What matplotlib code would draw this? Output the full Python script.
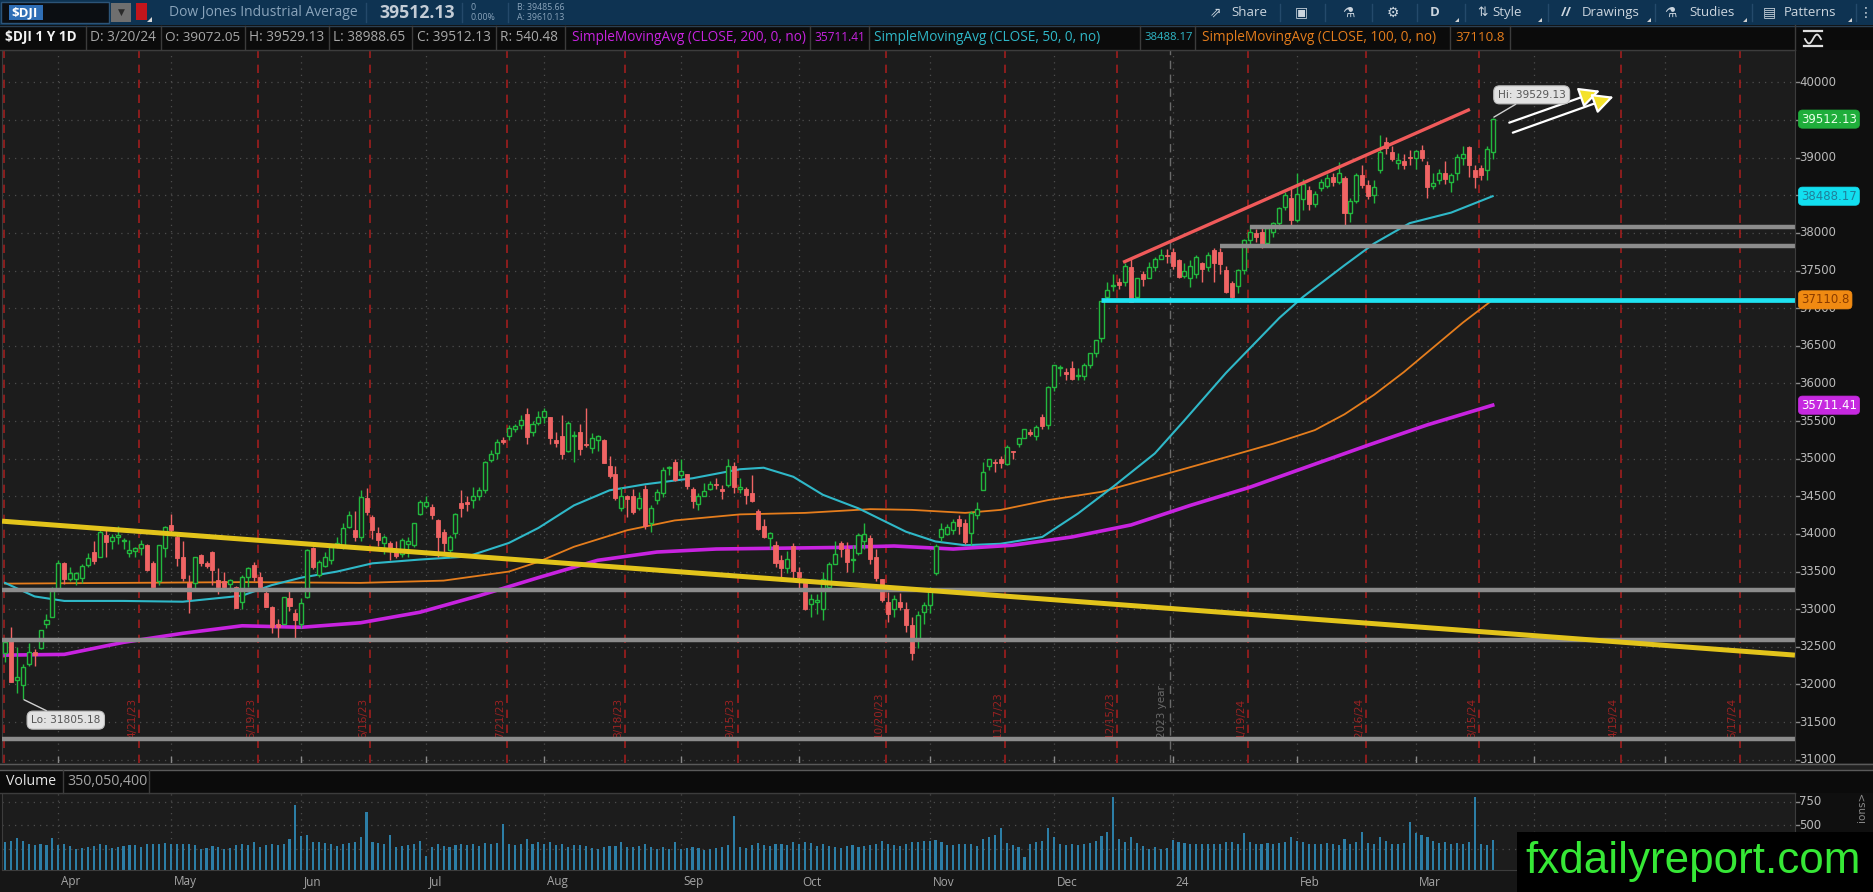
import numpy as np
import pandas as pd
import matplotlib
matplotlib.use("Agg")
import matplotlib.pyplot as plt
from matplotlib.patches import Rectangle, Polygon
from matplotlib.lines import Line2D

# ------------------------------------------------------------------ data
symbol_title = "Dow Jones Industrial Average"
holidays = ["2023-04-07", "2023-05-29", "2023-06-19", "2023-07-04", "2023-09-04",
            "2023-11-23", "2023-12-25", "2024-01-01", "2024-01-15", "2024-02-19",
            "2024-03-29", "2024-05-27"]

# daily OHLC, 2023-03-21 .. 2024-03-20 (one row of values per month)
opens = [
    32415, 32590, 32060, 31990, 32270, 32430, 32480, 32800, 32900,
    33250, 33610, 33400, 33400, 33420, 33590, 33760, 33700, 33990, 33910, 33960, 33900, 33750, 33780, 33820, 33850, 33620, 33380, 33820,
    34120, 33960, 33700, 33350, 33350, 33720, 33620, 33760, 33390, 33380, 33330, 33300, 33100, 33430, 33590, 33430, 33210, 33030, 32800, 32810, 33150, 32950,
    32800, 33160, 33810, 33450, 33580, 33650, 33850, 33830, 34090, 34050, 33960, 34480, 34220, 34010, 33880, 33880, 33800, 33730, 33860, 33850, 34270,
    34370, 34360, 34180, 34030, 33790, 34010, 34410, 34420, 34450, 34500, 34590, 34980, 35080, 35250, 35300, 35400, 35450, 35600, 35350, 35470,
    35550, 35550, 35250, 35300, 35100, 35300, 35350, 35200, 35140, 35250, 35250, 34900, 34800, 34350, 34500, 34500, 34340, 34600, 34150, 34450, 34540, 34870, 34950,
    34780, 34800, 34600, 34400, 34500, 34600, 34650, 34600, 34650, 34900, 34600, 34600, 34550, 34300, 34110, 33950, 33850, 33650, 33550, 33840,
    33500, 33350, 33070, 33100, 33000, 33300, 33600, 33880, 33800, 33650, 33750, 33900, 33950, 33700, 33400, 33100, 33000, 33100, 33000, 32790, 32590, 32960,
    33050, 33480, 33960, 34000, 34050, 34200, 34150, 34010, 34250, 34580, 34900, 34950, 35000, 34930, 35100, 35200, 35270, 35350, 35300, 35550, 35450,
    35950, 36200, 36150, 36200, 36100, 36100, 36250, 36400, 36600, 37150, 37300, 37350, 37350, 37550, 37150, 37450, 37400, 37550, 37650, 37700,
    37750, 37640, 37430, 37400, 37450, 37600, 37550, 37770, 37750, 37510, 37330, 37290, 37510, 37900, 38000, 38010, 37860, 38010, 38130, 38340, 38460,
    38170, 38450, 38570, 38380, 38600, 38620, 38740, 38680, 38730, 38260, 38420, 38770, 38640, 38500, 38840, 39210, 39080, 38930, 38950, 39000,
    39000, 39100, 38900, 38620, 38700, 38800, 38680, 38800, 39000, 39140, 38830, 38860, 38840, 39072.05,
]
highs = [
    32600, 32760, 32500, 32270, 32550, 32470, 32730, 32930, 33300,
    33650, 33630, 33560, 33500, 33600, 33750, 33900, 34060, 34050, 34000, 34100, 33950, 33920, 33830, 33920, 33870, 33640, 33850, 34100,
    34270, 34000, 33900, 33450, 33700, 33730, 33640, 33780, 33550, 33500, 33400, 33310, 33450, 33560, 33630, 33490, 33300, 33040, 32870, 33160, 33260, 33000,
    33150, 33800, 33830, 33650, 33760, 33860, 33960, 34140, 34300, 34300, 34590, 34610, 34250, 34090, 33990, 33900, 33900, 33940, 33960, 34150, 34450,
    34500, 34400, 34200, 34060, 33980, 34280, 34580, 34500, 34630, 34620, 34970, 35120, 35260, 35290, 35450, 35460, 35580, 35680, 35500, 35630,
    35680, 35560, 35350, 35580, 35500, 35370, 35460, 35680, 35340, 35320, 35260, 35030, 34900, 34630, 34520, 34600, 34560, 34650, 34380, 34600, 34890, 34900, 34990,
    34990, 34800, 34620, 34550, 34680, 34700, 34740, 34650, 34990, 34950, 34750, 34620, 34780, 34330, 34200, 34020, 33900, 33720, 33780, 33880,
    33560, 33350, 33200, 33200, 33500, 33630, 33900, 33900, 33890, 33850, 34010, 34140, 33980, 33800, 33400, 33230, 33190, 33220, 33100, 32900, 32980, 33090,
    33300, 33860, 34150, 34130, 34200, 34250, 34200, 34300, 34420, 34950, 35000, 35000, 35030, 35180, 35100, 35280, 35400, 35400, 35450, 35600, 35960,
    36250, 36250, 36200, 36300, 36200, 36270, 36410, 36580, 37100, 37350, 37450, 37400, 37600, 37650, 37400, 37500, 37620, 37680, 37780, 37780,
    37800, 37660, 37600, 37640, 37700, 37620, 37740, 37800, 37800, 37560, 37360, 37520, 37920, 38100, 38050, 38080, 38080, 38150, 38340, 38550, 38600,
    38790, 38720, 38630, 38560, 38720, 38780, 38800, 38940, 38750, 38460, 38800, 38900, 38700, 38700, 39300, 39280, 39150, 39060, 39050, 39100,
    39100, 39170, 38950, 38800, 38850, 38950, 38800, 39050, 39150, 39150, 38900, 38900, 39150, 39529.13,
]
lows = [
    32300, 32030, 31890, 31805.18, 32240, 32250, 32470, 32750, 32890,
    33250, 33330, 33370, 33320, 33350, 33560, 33600, 33690, 33700, 33800, 33870, 33800, 33700, 33700, 33720, 33510, 33290, 33320, 33700,
    34000, 33570, 33380, 32950, 33280, 33570, 33550, 33320, 33200, 33250, 33230, 33010, 33000, 33300, 33370, 33240, 33030, 32690, 32620, 32800, 32970, 32590,
    32750, 33150, 33530, 33430, 33560, 33600, 33820, 33800, 34080, 33910, 33900, 34250, 33930, 33840, 33740, 33650, 33680, 33690, 33700, 33830, 34250,
    34350, 34200, 33700, 33730, 33700, 33950, 34220, 34310, 34350, 34450, 34550, 34950, 35000, 35190, 35250, 35350, 35400, 35200, 35300, 35450,
    35480, 35200, 35150, 35000, 35090, 34950, 35050, 35150, 35070, 35100, 34940, 34750, 34450, 34300, 34230, 34270, 34320, 34070, 34030, 34400, 34490, 34780, 34700,
    34750, 34600, 34350, 34320, 34500, 34580, 34600, 34460, 34620, 34550, 34550, 34400, 34430, 34050, 33950, 33800, 33560, 33370, 33480, 33400,
    33250, 32990, 32900, 32930, 32860, 33250, 33600, 33700, 33500, 33500, 33720, 33800, 33600, 33380, 33100, 32830, 32900, 32990, 32700, 32330, 32480, 32800,
    32950, 33450, 33900, 33990, 34000, 34000, 33860, 33850, 34200, 34580, 34850, 34820, 34880, 34920, 35000, 35150, 35270, 35300, 35250, 35400, 35400,
    35900, 36100, 36050, 36050, 36050, 36050, 36200, 36350, 36550, 37100, 37230, 37250, 37300, 37080, 37100, 37300, 37400, 37500, 37650, 37600,
    37520, 37400, 37400, 37280, 37400, 37350, 37500, 37350, 37450, 37200, 37120, 37200, 37450, 37850, 37880, 37800, 37840, 37950, 38050, 38300, 38100,
    38150, 38300, 38300, 38350, 38560, 38600, 38620, 38650, 38100, 38150, 38400, 38600, 38450, 38400, 38800, 39050, 38950, 38850, 38850, 38900,
    38850, 38950, 38460, 38580, 38650, 38650, 38550, 38700, 38900, 38740, 38600, 38700, 38700, 38988.65,
]
closes = [
    32560, 32030, 32105, 32237, 32432, 32394, 32718, 32859, 33274,
    33610, 33400, 33480, 33485, 33570, 33680, 33640, 34030, 33890, 33960, 33980, 33900, 33790, 33810, 33870, 33520, 33300, 33850, 34090,
    34050, 33680, 33410, 33130, 33690, 33610, 33580, 33520, 33300, 33300, 33390, 33010, 33430, 33550, 33430, 33300, 33030, 32760, 32770, 33160, 33040, 32860,
    33080, 33790, 33560, 33630, 33700, 33830, 33880, 34080, 34250, 33960, 34490, 34290, 34050, 33920, 33960, 33790, 33710, 33920, 33900, 34140, 34430,
    34430, 34250, 33960, 33880, 33960, 34270, 34340, 34395, 34510, 34585, 34950, 35060, 35225, 35228, 35411, 35438, 35520, 35283, 35459, 35560,
    35630, 35280, 35215, 35066, 35474, 35314, 35123, 35176, 35281, 35308, 34946, 34766, 34475, 34500, 34464, 34289, 34473, 34100, 34347, 34560, 34853, 34891, 34722,
    34838, 34642, 34443, 34501, 34577, 34664, 34646, 34576, 34907, 34618, 34624, 34518, 34441, 34070, 33964, 34007, 33619, 33551, 33667, 33510,
    33433, 33002, 33130, 33120, 33407, 33605, 33740, 33804, 33632, 33671, 33985, 33998, 33665, 33415, 33127, 32937, 33141, 33036, 32784, 32418, 32929, 33053,
    33275, 33839, 34061, 34096, 34153, 34112, 33892, 34283, 34337, 34828, 34991, 34946, 34947, 35151, 35088, 35273, 35390, 35333, 35417, 35430, 35951,
    36245, 36204, 36125, 36055, 36117, 36248, 36405, 36577, 37090, 37248, 37306, 37306, 37558, 37083, 37405, 37386, 37545, 37657, 37711, 37690,
    37560, 37420, 37500, 37560, 37683, 37525, 37700, 37600, 37593, 37210, 37150, 37510, 37900, 38010, 37950, 37840, 38060, 38130, 38333, 38500, 38170,
    38520, 38654, 38380, 38520, 38677, 38726, 38680, 38800, 38260, 38424, 38773, 38640, 38490, 38612, 39069, 39131, 38980, 38972, 38900, 38996,
    39087, 38990, 38610, 38661, 38791, 38723, 38770, 39005, 39043, 38906, 38740, 38770, 39110, 39512.13,
]
# daily volume, millions of shares
volume_m = [
    330, 340, 370, 340, 300, 290, 300, 290, 370,
    290, 300, 280, 250, 260, 270, 280, 300, 290, 260, 270, 280, 290, 290, 270, 300, 300, 310, 320,
    300, 300, 310, 300, 290, 250, 260, 280, 270, 250, 260, 290, 300, 290, 330, 270, 290, 310, 290, 300, 360, 710,
    390, 400, 330, 330, 320, 300, 280, 300, 320, 330, 380, 640, 330, 320, 310, 400, 270, 280, 290, 300, 340,
    180, 270, 300, 280, 270, 290, 300, 290, 300, 280, 320, 310, 320, 510, 310, 290, 310, 360, 310, 330,
    310, 330, 290, 300, 270, 290, 290, 280, 260, 250, 270, 280, 280, 330, 270, 270, 280, 300, 270, 250, 270, 250, 330,
    250, 260, 270, 260, 240, 250, 260, 270, 290, 600, 270, 260, 290, 320, 290, 280, 310, 300, 290, 330,
    300, 330, 320, 280, 310, 280, 270, 260, 280, 290, 270, 280, 290, 310, 340, 300, 290, 280, 310, 330, 330, 340,
    340, 350, 330, 290, 290, 300, 300, 310, 280, 360, 380, 400, 470, 320, 290, 270, 170, 310, 330, 340, 470,
    380, 300, 290, 300, 290, 300, 320, 340, 390, 430, 800, 360, 330, 380, 320, 280, 250, 270, 250, 260,
    350, 330, 320, 310, 300, 310, 300, 310, 300, 330, 330, 310, 420, 330, 300, 310, 320, 300, 320, 330, 380,
    340, 330, 310, 300, 300, 320, 300, 290, 360, 300, 330, 430, 320, 300, 380, 340, 300, 310, 320, 540,
    420, 400, 380, 340, 320, 330, 310, 320, 300, 330, 800, 300, 290, 350,
]

# moving averages (trading-day number, value)
sma200_day = [0, 10, 20, 30, 40, 50, 60, 70, 80, 90, 100, 110, 120, 130, 140, 150, 160, 170, 180, 190, 200, 210, 220, 230, 240, 251]
sma200_val = [32390, 32400, 32560, 32680, 32780, 32760, 32820, 32960, 33180, 33420, 33650, 33760, 33800, 33810, 33820, 33840,
              33800, 33850, 33960, 34120, 34380, 34620, 34900, 35180, 35450, 35711.41]
sma50_day = [0, 5, 10, 20, 30, 40, 45, 50, 56, 62, 70, 78, 85, 90, 96, 102, 108, 116, 124, 128, 133, 138, 144, 152,
             157, 162, 168, 175, 181, 187, 194, 199, 206, 215, 219, 226, 231, 237, 244, 251]
sma50_val = [33350, 33170, 33110, 33110, 33100, 33180, 33320, 33420, 33500, 33610, 33660, 33700, 33880, 34080, 34380,
             34580, 34660, 34740, 34860, 34880, 34760, 34520, 34340, 34030, 33900, 33850, 33870, 33960, 34270, 34630,
             35070, 35510, 36140, 36870, 37150, 37570, 37860, 38130, 38270, 38488.17]
sma100_day = [0, 20, 40, 60, 74, 85, 90, 96, 105, 113, 124, 135, 146, 153, 162, 168, 176, 185, 196, 206, 214, 221,
              226, 231, 236, 241, 246, 251]
sma100_val = [33340, 33350, 33360, 33350, 33380, 33500, 33630, 33830, 34050, 34180, 34260, 34280, 34330, 34320, 34280,
              34320, 34450, 34560, 34800, 35020, 35200, 35380, 35590, 35850, 36150, 36480, 36810, 37110.8]

# header / legend values
last_price = 39512.13
bid_price, ask_price = 39485.66, 39610.13
ohlc_header = ["D: 3/20/24", "O: 39072.05", "H: 39529.13", "L: 38988.65", "C: 39512.13", "R: 540.48"]
sma200_last, sma50_last, sma100_last = 35711.41, 38488.17, 37110.8
last_volume = "350,050,400"
hi_value, lo_value = 39529.13, 31805.18

# option-expiration markers
opex_dates = ["2023-03-17", "2023-04-21", "2023-05-19", "2023-06-16", "2023-07-21", "2023-08-18", "2023-09-15",
              "2023-10-20", "2023-11-17", "2023-12-15", "2024-01-19", "2024-02-16", "2024-03-15", "2024-04-19",
              "2024-05-17"]
opex_labels = ["", "4/21/23", "5/19/23", "6/16/23", "7/21/23", "8/18/23", "9/15/23", "10/20/23", "11/17/23",
               "12/15/23", "1/19/24", "2/16/24", "3/15/24", "4/19/24", "5/17/24"]
month_labels = ["Apr", "May", "Jun", "Jul", "Aug", "Sep", "Oct", "Nov", "Dec", "24", "Feb", "Mar"]
price_levels = list(range(31000, 40001, 500))
volume_levels = [250, 500, 750]
volume_labels = [750, 500]

# user drawings (trading-day number, price)
yellow_trend = ([-0.5, 302.0], [34170, 32390])
red_trend = ([188.9, 246.9], [37618, 39633])
gray_full = [33255, 32590, 31270]
gray_partial = [(38085, 210), (37820, 205)]
cyan_level = (37110, 185)
arrows = [((253.8, 39465), (269.1, 39890)), ((254.4, 39332), (271.4, 39810))]

# ------------------------------------------------------------------ layout
W, H = 1873, 892
fig = plt.figure(figsize=(W / 100, H / 100), dpi=100)
fig.patch.set_facecolor("#161616")
renderer = fig.canvas.get_renderer()

HF = ["Open Sans", "DejaVu Sans"]
NF = ["DejaVu Sans"]
BG = "#1c1c1c"
GREEN = "#22b83e"
RED = "#f06464"
MAG = "#c823e0"
CYAN = "#2fb8c8"
ORANGE = "#e57d1c"

X0, PXD = 5.0, 5.927          # pixel of first candle, pixels per trading day
Y40, PPK = 82.4, 75.26        # pixel row of 40000, pixels per 1000 points


def fx(x):
    return x / W


def fy(y):
    return 1 - y / H


def price_at(y):
    return 40000 - (y - Y40) / PPK * 1000


def frect(x0, y0, x1, y1, fc, ec="none", lw=0, z=2):
    r = Rectangle((fx(x0), fy(y1)), (x1 - x0) / W, (y1 - y0) / H, transform=fig.transFigure,
                  facecolor=fc, edgecolor=ec, linewidth=lw, zorder=z)
    fig.add_artist(r)
    return r


def fline(xs_, ys_, color, lw=1.0, z=3):
    l = Line2D([fx(v) for v in xs_], [fy(v) for v in ys_], transform=fig.transFigure, color=color, lw=lw, zorder=z)
    fig.add_artist(l)


def ftext(x, y, s, color, size, family=HF, weight="normal", ha="left", va="center", z=4, **kw):
    return fig.text(fx(x), fy(y), s, color=color, fontsize=size, family=family, fontweight=weight,
                    ha=ha, va=va, zorder=z, **kw)


def size_for(s, width, family=HF, weight="normal"):
    t = fig.text(0, 0, s, fontsize=10, family=family, fontweight=weight)
    w = t.get_window_extent(renderer).width
    t.remove()
    return 10 * width / w


# trading calendar
all_days = pd.bdate_range("2023-03-21", "2024-05-31")
all_days = all_days[~all_days.isin(pd.to_datetime(holidays))]
day_pos = {d.strftime("%Y-%m-%d"): i for i, d in enumerate(all_days)}
month_start = [i for i in range(1, len(all_days)) if all_days[i].month != all_days[i - 1].month]
year_break = day_pos["2024-01-02"] - 0.5

n = len(closes)
xi = np.arange(n)
o = np.array(opens, float)
hh = np.array(highs, float)
ll = np.array(lows, float)
c = np.array(closes, float)

PL, PR, MT, MB = 2, 1795, 50, 763
XL = ((PL - X0) / PXD, (PR - X0) / PXD)
YL = (price_at(MB), price_at(MT))

# ---------------- main price panel
ax = fig.add_axes([fx(PL), fy(MB), (PR - PL) / W, (MB - MT) / H])
ax.set_xlim(*XL)
ax.set_ylim(*YL)
ax.set_facecolor(BG)
ax.set_xticks([])
ax.set_yticks([])
for s in ax.spines.values():
    s.set_color("#3c3c3c")

for lv in price_levels + [40500]:
    ax.axhline(lv, color="#4c4c4c", ls=(0, (1, 4)), lw=0.9, zorder=0.5)
for m in month_start:
    ax.axvline(m, color="#4c4c4c", ls=(0, (1, 4)), lw=0.9, zorder=0.5)
    ax.axvline(m, ymin=0, ymax=6 / (MB - MT), color="#8a8a8a", lw=1, zorder=0.6)

ax.axvline(year_break, color="#6a6a6a", ls=(0, (6, 4)), lw=1, zorder=0.8)
ax.text(year_break - 0.4, price_at(738), "2023 year", rotation=90, ha="right", va="bottom",
        color="#6a6a6a", fontsize=7.5, family=NF, zorder=0.8, clip_on=True)

for d, lab in zip(opex_dates, opex_labels):
    xpos = day_pos.get(d, -0.85) + 0.65
    ax.axvline(xpos, color="#a01e1e", ls=(0, (5, 4)), lw=1.2, zorder=1)
    if lab:
        ax.text(xpos - 0.35, price_at(738), lab, rotation=90, ha="right", va="bottom",
                color="#9a2222", fontsize=7.5, family=NF, zorder=1, clip_on=True)

# moving averages
ax.plot(sma100_day, sma100_val, color=ORANGE, lw=1.3, zorder=2)
ax.plot(sma50_day, sma50_val, color=CYAN, lw=1.5, zorder=2)
ax.plot(sma200_day, sma200_val, color=MAG, lw=2.6, zorder=2)

# candles
up = c >= o
ax.vlines(xi, ll, hh, colors=[GREEN if u else RED for u in up], lw=1, zorder=3)
body_lo = np.minimum(o, c)
body_h = np.maximum(np.abs(c - o), 14)
ax.bar(xi[up], body_h[up], bottom=body_lo[up], width=0.68, facecolor=BG, edgecolor=GREEN, lw=1, zorder=4)
ax.bar(xi[~up], body_h[~up], bottom=body_lo[~up], width=0.68, facecolor=RED, edgecolor=RED, lw=0.6, zorder=4)

# drawings
for v in gray_full:
    ax.axhline(v, color="#8c8c8c", lw=3.2, zorder=5)
for v, start in gray_partial:
    ax.hlines(v, start, XL[1], color="#8c8c8c", lw=3.2, zorder=5)
ax.hlines(cyan_level[0], cyan_level[1], XL[1], color="#1fe3f2", lw=3.4, zorder=5)
ax.plot(*yellow_trend, color="#e3c41b", lw=3.6, zorder=5, solid_capstyle="butt")
ax.plot(*red_trend, color="#f05a5a", lw=2.4, zorder=5)
for (tail, tip) in arrows:
    ax.annotate("", xy=tip, xytext=tail,
                arrowprops=dict(arrowstyle="-|>,head_length=0.9,head_width=0.45", fc="#f4e22a", ec="white",
                                lw=1.6, shrinkA=0, shrinkB=0, mutation_scale=14), zorder=6)

hi_i = int(np.argmax(hh))
lo_i = int(np.argmin(ll))
bub = dict(boxstyle="round,pad=0.38,rounding_size=0.55", fc="#e2e2e2", ec="#bdbdbd", lw=0.8)
ax.annotate(f"Hi: {hi_value:.2f}", xy=(hi_i, hi_value), xytext=(39, 23), textcoords="offset pixels",
            ha="center", va="center", fontsize=7.6, color="#555555", family=NF, bbox=bub,
            arrowprops=dict(arrowstyle="-", color="#d0d0d0", lw=1, shrinkA=0, shrinkB=1), zorder=9)
ax.annotate(f"Lo: {lo_value:.2f}", xy=(lo_i, lo_value), xytext=(43, -21), textcoords="offset pixels",
            ha="center", va="center", fontsize=7.6, color="#555555", family=NF, bbox=bub,
            arrowprops=dict(arrowstyle="-", color="#d0d0d0", lw=1, shrinkA=0, shrinkB=1), zorder=9)

# ---------------- right price scale
axR = fig.add_axes([fx(PR), fy(MB), (W - PR) / W, (MB - MT) / H])
axR.set_xlim(0, W - PR)
axR.set_ylim(*YL)
axR.set_facecolor("#0f0f0f")
axR.set_xticks([])
axR.set_yticks([])
for k, s in axR.spines.items():
    s.set_visible(k == "left")
    s.set_color("#3c3c3c")
badges = [(last_price, f"{last_price:.2f}", "#1fae3b", "#e8ffe8"),
          (sma50_last, f"{sma50_last:.2f}", "#12dff0", "#1f7f9a"),
          (sma100_last, f"{sma100_last}", "#f08a12", "#8a3c00"),
          (sma200_last, f"{sma200_last:.2f}", "#c629e0", "#ffffff")]
badge_half = 9.5 / PPK * 1000      # half badge height in points
for lv in price_levels:
    axR.plot([0, 3.5], [lv, lv], color="#8a8a8a", lw=1)
    covered = any(abs(lv - b[0]) < badge_half * 0.75 for b in badges)
    if not covered:
        axR.text(4.5, lv, f"{lv}", color="#b9b9b9", fontsize=8.5, family=NF, va="center", ha="left", clip_on=True)
for val, s, bg, tc in badges:
    axR.text(6.0, val, s, color=tc, fontsize=8.5, family=NF, va="center", ha="left", zorder=5,
             bbox=dict(boxstyle="round,pad=0.22,rounding_size=0.35", fc=bg, ec=bg, lw=0.5))

# ---------------- volume panel
VT, VB = 793, 870
VYL = (33, 839)
axV = fig.add_axes([fx(PL), fy(VB), (PR - PL) / W, (VB - VT) / H])
axV.set_xlim(*XL)
axV.set_ylim(*VYL)
axV.set_facecolor(BG)
axV.set_xticks([])
axV.set_yticks([])
for s in axV.spines.values():
    s.set_color("#3c3c3c")
for lv in volume_levels:
    axV.axhline(lv, color="#4c4c4c", ls=(0, (1, 4)), lw=0.9, zorder=0.5)
for m in month_start:
    axV.axvline(m, color="#4c4c4c", ls=(0, (1, 4)), lw=0.9, zorder=0.5)
axV.bar(xi, volume_m, width=0.36, color="#2c7ea6", zorder=2)

axVR = fig.add_axes([fx(PR), fy(VB), (W - PR) / W, (VB - VT) / H])
axVR.set_xlim(0, W - PR)
axVR.set_ylim(*VYL)
axVR.set_facecolor("#0f0f0f")
axVR.set_xticks([])
axVR.set_yticks([])
for k, s in axVR.spines.items():
    s.set_visible(k == "left")
    s.set_color("#3c3c3c")
for lv in volume_levels:
    axVR.plot([0, 3.5], [lv, lv], color="#8a8a8a", lw=1)
for lv in volume_labels:
    axVR.text(4.5, lv, f"{lv}", color="#b9b9b9", fontsize=8.5, family=NF, va="center", ha="left", clip_on=True)
axVR.text(67, 690, "ions>", rotation=90, color="#8a8a8a", fontsize=7.5, family=NF, ha="center", va="center",
          clip_on=True)

# splitter + volume header
frect(0, 763, W, 770, "#202020", z=1)
fline([0, W], [763.5, 763.5], "#5a5a5a", 1, 1.5)
fline([0, W], [769.5, 769.5], "#5a5a5a", 1, 1.5)
frect(0, 770, W, 793, "#0b0b0b", z=1)
fline([63, 63], [770, 793], "#3c3c3c", 1, 3)
fline([149, 149], [770, 793], "#3c3c3c", 1, 3)
fline([0, PR], [792.5, 792.5], "#3c3c3c", 1, 3)
vs = size_for("Volume", 50)
ftext(6, 781.5, "Volume", "#e6e6e6", vs)
ftext(67, 781.5, last_volume, "#a6a6a6", vs)

# month labels
for m, lab in zip(month_start, month_labels):
    ftext(X0 + m * PXD + 3, 882, lab, "#a6a6a6", 8.5)

# ---------------- header bar
frect(0, 0, W, 25, "#0e3352", z=2)
frect(1, 2, 109, 23, "#0b0e12", ec="#2c5478", lw=1, z=3)
frect(9, 5, 43, 20, "#2f6fb6", z=3)
ftext(11, 12.5, "$DJI", "white", 9.5, weight="bold")
frect(111, 3, 131, 22, "#6f6f6f", z=3)
ftext(121, 12.5, "\u25BC", "#2a2a2a", 6.5, family=NF, ha="center")
frect(136, 3, 147, 20, "#c4161c", z=3)
tri = Polygon([[fx(147), fy(22)], [fx(152), fy(22)], [fx(152), fy(17)]], closed=True,
              transform=fig.transFigure, fc="#d8d8d8", ec="none", zorder=4)
fig.add_artist(tri)
ftext(169, 12.5, symbol_title, "#8aa4bb", size_for(symbol_title, 188))
fline([366, 366], [3, 22], "#24496a", 1, 3)
ftext(379, 12.5, f"{last_price:.2f}", "#c3ccd6", size_for(f"{last_price:.2f}", 75, weight="bold"), weight="bold")
fline([462, 462], [3, 22], "#24496a", 1, 3)
ftext(471, 7.0, "0", "#8aa4bb", 6.3)
ftext(471, 18.0, "0.00%", "#8aa4bb", 6.3)
fline([508, 508], [3, 22], "#24496a", 1, 3)
ftext(517, 7.0, f"B: {bid_price:.2f}", "#8aa4bb", 6.3)
ftext(517, 18.0, f"A: {ask_price:.2f}", "#8aa4bb", 6.3)

TB = "#cbd5de"
ts = size_for("Drawings", 58)
ftext(1216, 12.5, "\u21D7", TB, 10, family=NF, ha="center")
ftext(1231, 12.5, "Share", TB, ts)
ftext(1301, 12.5, "\u25A3", TB, 10, family=NF, ha="center")
ftext(1348, 12.5, "\u2697", TB, 10, family=NF, ha="center")
ftext(1393, 12.5, "\u2699", TB, 10, family=NF, ha="center")
ftext(1435, 12.5, "D", TB, ts, weight="bold", ha="center")
ftext(1483, 12.5, "\u21C5", TB, 9, family=NF, ha="center")
ftext(1492, 12.5, "Style", TB, ts)
ftext(1566, 12.5, "//", TB, ts, weight="bold", ha="center")
ftext(1582, 12.5, "Drawings", TB, ts)
ftext(1670, 12.5, "\u2697", TB, 10, family=NF, ha="center")
ftext(1689, 12.5, "Studies", TB, ts)
ftext(1769, 12.5, "\u25A4", TB, 10, family=NF, ha="center")
ftext(1784, 12.5, "Patterns", TB, ts)
ftext(1866, 12.5, "\u22EE", TB, 10, family=NF, ha="center")
for xt in [1455, 1538, 1647, 1743, 1848]:
    p = Polygon([[fx(xt), fy(22)], [fx(xt + 4), fy(22)], [fx(xt + 4), fy(18)]], closed=True,
                transform=fig.transFigure, fc="#d0d0d0", ec="none", zorder=4)
    fig.add_artist(p)
for xs_ in [1280, 1325, 1372, 1417, 1465, 1548, 1655, 1752, 1856]:
    fline([xs_, xs_], [4, 21], "#244a6b", 1, 3)

# ---------------- legend row (each item fitted into its own cell)
frect(0, 25, W, 50, "#0b0b0b", z=2)
fline([0, W], [25.5, 25.5], "#2b3f52", 1, 3)
fline([0, PR], [49.5, 49.5], "#3c3c3c", 1, 3)
s2 = size_for("SimpleMovingAvg (CLOSE, 200, 0, no)", 234)
legend_items = [("$DJI 1 Y 1D", 5, 79, "#f2f2f2", "bold")]
for (x0_, x1_), s in zip([(90, 156), (165, 240), (249, 324), (333, 408), (417, 492), (500, 560)], ohlc_header):
    legend_items.append((s, x0_, x1_, "#a8a8a8", "normal"))
legend_items += [
    ("SimpleMovingAvg (CLOSE, 200, 0, no)", 572, 806, MAG, "normal"),
    (f"{sma200_last:.2f}", 814, 865, MAG, "normal"),
    ("SimpleMovingAvg (CLOSE, 50, 0, no)", 874, 1134, CYAN, "normal"),
    (f"{sma50_last:.2f}", 1144, 1192, CYAN, "normal"),
    ("SimpleMovingAvg (CLOSE, 100, 0, no)", 1202, 1444, ORANGE, "normal"),
    (f"{sma100_last}", 1455, 1505, ORANGE, "normal"),
]
for s, x0_, x1_, col, wt in legend_items:
    ftext(x0_, 37.5, s, col, min(s2, size_for(s, x1_ - x0_, weight=wt)), weight=wt)
for xs_ in [86, 161, 245, 329, 412, 496, 565, 810, 869, 1140, 1195, 1450, 1510]:
    fline([xs_, xs_], [26, 49], "#3c3c3c", 1, 3)
fline([PR, PR], [25, 50], "#3c3c3c", 1, 3)
# study icon on the price-scale column
fline([1804, 1822], [31, 31], "#e0e0e0", 1.6, 4)
fline([1804, 1822], [46, 46], "#e0e0e0", 1.6, 4)
tt = np.linspace(0, 1, 20)
fline(list(1805 + 16 * tt), list(39 - 4.5 * np.sin(np.pi * (tt * 2 - 1))), "#e0e0e0", 1.3, 4)

# ---------------- watermark
frect(1517, 832, W, H, "#000000", z=10)
wm = "fxdailyreport.com"
ftext(1525, 861, wm, "#36e836", size_for(wm, 337, family=["Liberation Sans", "DejaVu Sans"]),
      family=["Liberation Sans", "DejaVu Sans"], z=11)

fig.savefig("out.png", dpi=100, facecolor=fig.get_facecolor())
